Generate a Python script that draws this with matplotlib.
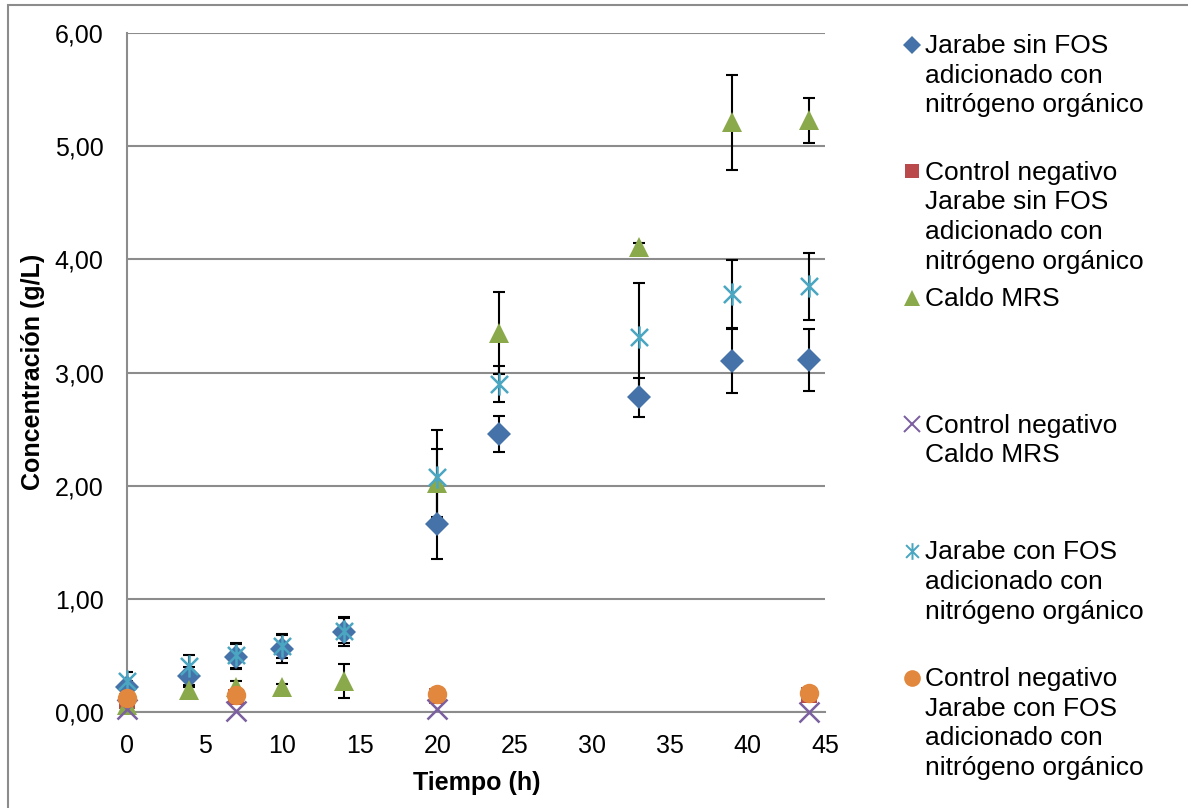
import matplotlib
matplotlib.use("Agg")
import matplotlib.pyplot as plt
from matplotlib.path import Path
from matplotlib.patches import Rectangle
import numpy as np

plt.rcParams['font.family'] = ['Liberation Sans', 'DejaVu Sans']

# tiempos de muestreo (h)
tiempo = [0, 4, 7, 10, 14, 20, 24, 33, 39, 44]
tiempo_ctrl = [0, 7, 20, 44]

sin_fos = [0.22, 0.32, 0.49, 0.56, 0.71, 1.66, 2.46, 2.78, 3.10, 3.11]
sin_fos_err = [0.05, 0.08, 0.11, 0.13, 0.13, 0.31, 0.16, 0.17, 0.28, 0.27]

con_fos = [0.27, 0.41, 0.50, 0.58, 0.72, 2.08, 2.90, 3.31, 3.69, 3.76]
con_fos_err = [0.08, 0.09, 0.11, 0.10, 0.11, 0.41, 0.16, 0.48, 0.30, 0.30]

mrs = [0.06, 0.19, 0.22, 0.22, 0.27, 2.02, 3.35, 4.11, 5.21, 5.23]
mrs_err = [0.02, 0.03, 0.05, 0.03, 0.15, 0.30, 0.36, 0.03, 0.42, 0.20]

ctrl_sin_fos = [0.10, 0.13, 0.14, 0.15]
ctrl_mrs = [0.03, 0.01, 0.03, 0.00]
ctrl_con_fos = [0.12, 0.15, 0.16, 0.17]

etiquetas = [
    "Jarabe sin FOS\nadicionado con\nnitrógeno orgánico",
    "Control negativo\nJarabe sin FOS\nadicionado con\nnitrógeno orgánico",
    "Caldo MRS",
    "Control negativo\nCaldo MRS",
    "Jarabe con FOS\nadicionado con\nnitrógeno orgánico",
    "Control negativo\nJarabe con FOS\nadicionado con\nnitrógeno orgánico",
]

azul = "#4572A8"
rojo = "#B9494A"
verde = "#89A94B"
morado = "#7B5FA0"
celeste = "#4AA6C1"
naranja = "#E1883E"
gris = "#8C8C8C"

# asterisco: X con linea vertical
estrella = Path([(-1, -1), (1, 1), (-1, 1), (1, -1), (0, -1.3), (0, 1.3)],
                [Path.MOVETO, Path.LINETO, Path.MOVETO, Path.LINETO, Path.MOVETO, Path.LINETO])

# marcador, color, tamano en grafico, tamano en leyenda, grosor de borde
estilos = [
    ('D', azul, 12, 9.5, 0),
    ('s', rojo, 11.5, 10.5, 0),
    ('^', verde, 15, 12, 0),
    ('x', morado, 14, 11, 1.8),
    (estrella, celeste, 16, 12, 1.8),
    ('o', naranja, 14, 12, 0),
]

W, H = 1188, 808
fig = plt.figure(figsize=(W / 100, H / 100), dpi=100)
ax = fig.add_axes([127 / W, 1 - 712 / H, (825 - 127) / W, (712 - 33) / H])

eb = dict(fmt='none', ecolor='black', elinewidth=1.5, capsize=4.5, capthick=1.5, zorder=2)
ax.errorbar(tiempo, sin_fos, yerr=sin_fos_err, **eb)
ax.errorbar(tiempo, mrs, yerr=mrs_err, **eb)
ax.errorbar(tiempo, con_fos, yerr=con_fos_err, **eb)

series = [
    (tiempo, sin_fos),
    (tiempo_ctrl, ctrl_sin_fos),
    (tiempo, mrs),
    (tiempo_ctrl, ctrl_mrs),
    (tiempo, con_fos),
    (tiempo_ctrl, ctrl_con_fos),
]
for (x, y), (mk, col, ms, _, mew) in zip(series, estilos):
    ax.plot(x, y, linestyle='none', marker=mk, color=col,
            markersize=ms, markeredgewidth=mew, zorder=3, clip_on=False)

ax.set_xlim(0, 45)
ax.set_ylim(0, 6)
ax.set_xticks(np.arange(0, 46, 5))
ax.set_yticks(np.arange(0, 6.01, 1))
ax.set_yticklabels([f"{v:.2f}".replace('.', ',') for v in np.arange(0, 6.01, 1)])
ax.tick_params(length=0, labelsize=18, colors='black')
ax.tick_params(axis='y', pad=17)
ax.tick_params(axis='x', pad=16)
ax.yaxis.grid(True, color=gris, linewidth=1.5)
ax.set_axisbelow(True)
for s in ['top', 'right']:
    ax.spines[s].set_visible(False)
for s in ['left', 'bottom']:
    ax.spines[s].set_color(gris)
    ax.spines[s].set_linewidth(1.5)

fig.text(33 / W, 1 - 372 / H, "Concentración (g/L)", rotation=90, ha='center', va='center',
         fontsize=18, fontweight='bold')
fig.text(477 / W, 1 - 783 / H, "Tiempo (h)", ha='center', va='center',
         fontsize=18, fontweight='bold')

# leyenda manual, entradas espaciadas de forma uniforme
for i, (txt, (mk, col, _, ms_ley, mew)) in enumerate(zip(etiquetas, estilos)):
    base = 50 + i * 126.6
    fig.text(925 / W, 1 - (base - 16) / H, txt, ha='left', va='top', fontsize=19,
             linespacing=1.3)
    fig.lines.append(plt.Line2D([912 / W], [1 - (base - 5.5) / H], transform=fig.transFigure,
                                linestyle='none', marker=mk, color=col,
                                markersize=ms_ley, markeredgewidth=mew * 0.8))

fig.patches.append(Rectangle((8 / W, -0.1), 1.2, 1 - 5 / H + 0.1, transform=fig.transFigure,
                             fill=False, edgecolor=gris, linewidth=1.5))

fig.savefig("out.png", dpi=100)
